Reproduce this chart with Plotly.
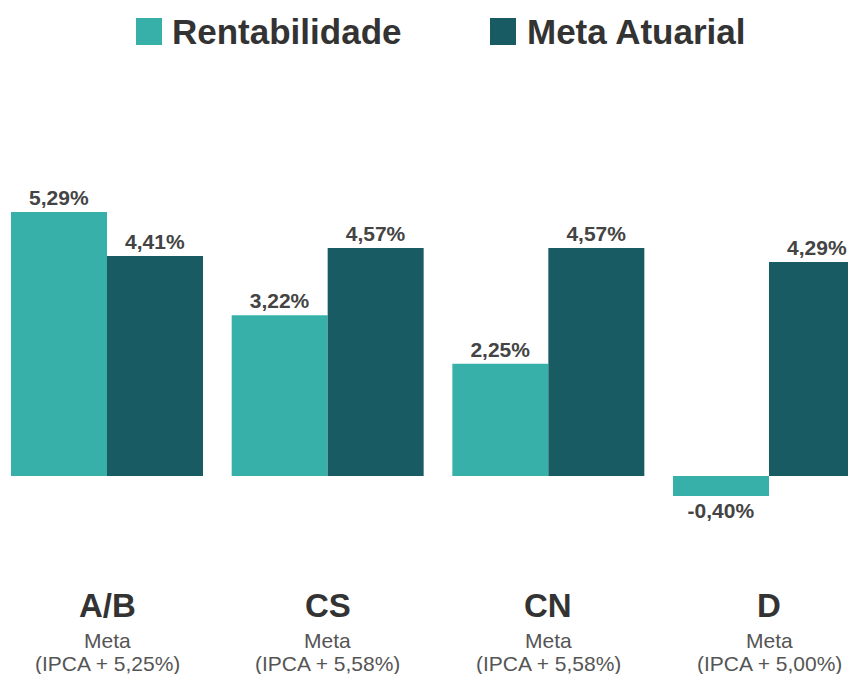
import plotly.graph_objects as go

categories = ["A/B", "CS", "CN", "D"]
metas = ["(IPCA + 5,25%)", "(IPCA + 5,58%)", "(IPCA + 5,58%)", "(IPCA + 5,00%)"]
rentabilidade = [5.29, 3.22, 2.25, -0.40]
meta_atuarial = [4.41, 4.57, 4.57, 4.29]
series_names = ["Rentabilidade", "Meta Atuarial"]
colors = ["#37b0a9", "#195b62"]

def fmt(v):
    return "<b>" + f"{v:.2f}".replace(".", ",") + "%</b>"

xpos = list(range(len(categories)))
FONT = "Liberation Sans, Arial, sans-serif"

# page has an 8px body margin: figure sits at (8, 8)
OFF = 8
W, H = 856 - OFF, 674 - OFF

fig = go.Figure()
for name, vals, col in zip(series_names, [rentabilidade, meta_atuarial], colors):
    fig.add_trace(go.Bar(
        x=xpos, y=vals, name=name, marker=dict(color=col, line=dict(width=0)),
        text=[fmt(v) for v in vals], textposition="outside",
        textfont=dict(family=FONT, size=21, color="#444444"),
        cliponaxis=False, showlegend=False,
    ))

def px_x(p):
    return (p - OFF) / W

def px_y(p):
    return 1 - (p - OFF) / H

# legend drawn manually (large squares)
leg = [(136, 162, 172), (490, 516, 527)]
for (x0, x1, tx), name, col in zip(leg, series_names, colors):
    fig.add_shape(type="rect", xref="paper", yref="paper",
                  x0=px_x(x0), x1=px_x(x1), y0=px_y(45), y1=px_y(18),
                  fillcolor=col, line=dict(width=0))
    fig.add_annotation(xref="paper", yref="paper", x=px_x(tx), y=px_y(32),
                       text=f"<b>{name}</b>", showarrow=False, xanchor="left", yanchor="middle",
                       xshift=-2,
                       font=dict(family=FONT, size=35, color="#333333"))

for xi, cat, meta in zip(xpos, categories, metas):
    fig.add_annotation(x=xi, xref="x", yref="paper", y=px_y(605), text=f"<b>{cat}</b>",
                       showarrow=False, yanchor="middle",
                       font=dict(family=FONT, size=33, color="#333333"))
    fig.add_annotation(x=xi, xref="x", yref="paper", y=px_y(640), text="Meta",
                       showarrow=False, yanchor="middle",
                       font=dict(family=FONT, size=21, color="#555555"))
    fig.add_annotation(x=xi, xref="x", yref="paper", y=px_y(663), text=meta,
                       showarrow=False, yanchor="middle",
                       font=dict(family=FONT, size=21, color="#555555"))

xscale = 220.67
x0c = 107 - OFF
yscale = 49.9
base = 476 - OFF
fig.update_layout(
    width=W, height=H,
    margin=dict(l=0, r=0, t=0, b=0),
    paper_bgcolor="white", plot_bgcolor="white",
    barmode="group", bargap=0.13, bargroupgap=0,
    xaxis=dict(range=[-x0c / xscale, (W - x0c) / xscale], visible=False),
    yaxis=dict(range=[-(H - base) / yscale, base / yscale], visible=False),
    font=dict(family=FONT),
)
fig.write_html("out.html")
